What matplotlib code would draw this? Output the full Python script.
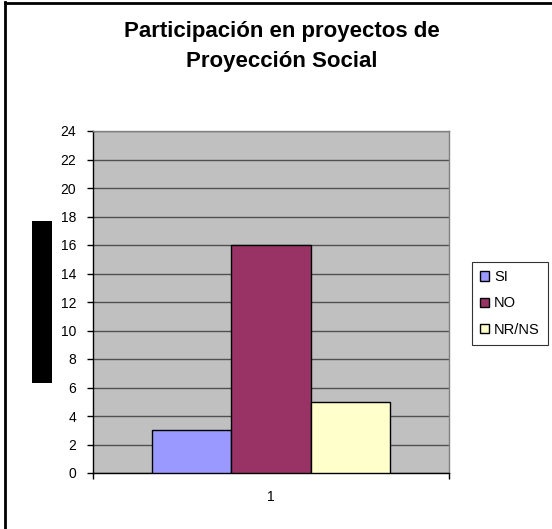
"""Bar chart: Participación en proyectos de Proyección Social (Excel-style)."""
import matplotlib
matplotlib.use("Agg")
import matplotlib.pyplot as plt
from matplotlib.patches import Rectangle
from matplotlib.lines import Line2D

plt.rcParams["font.family"] = ["Liberation Sans", "DejaVu Sans"]

# Data
categories = ["SI", "NO", "NR/NS"]
values = [3, 16, 5]
colors = ["#9999FF", "#993366", "#FFFFCC"]
group_label = ["1"]
yticks = list(range(0, 25, 2))

W, H = 552, 529
fig = plt.figure(figsize=(W / 100, H / 100), dpi=100)
fig.patch.set_facecolor("white")

# plot area in pixels: x 93..449, y 131..473
ax = fig.add_axes([93 / W, (H - 473) / H, (449 - 93) / W, (473 - 131) / H])
ax.set_facecolor("#C0C0C0")

bar_w = 0.222
offsets = [-bar_w, 0, bar_w]
for cat, val, col, off in zip(categories, values, colors, offsets):
    ax.bar(1 + off, val, width=bar_w, color=col, edgecolor="black",
           linewidth=1.0, label=cat, zorder=3)

ax.set_xlim(0.5, 1.5)
ax.set_ylim(0, 24)
ax.set_yticks(yticks)
ax.set_yticklabels([str(t) for t in yticks], fontsize=10)
ax.set_xticks([1])
ax.set_xticklabels(group_label, fontsize=10)
ax.tick_params(axis="x", length=0, pad=12)
ax.set_xticks([0.5, 1.5], minor=True)
ax.tick_params(axis="x", which="minor", length=4, width=1, color="black")
ax.tick_params(axis="y", length=4, width=1, pad=8, color="black")

ax.yaxis.grid(True, color="#505050", linewidth=1.0, zorder=1)
ax.set_axisbelow(True)

ax.spines["left"].set_color("black")
ax.spines["bottom"].set_color("black")
ax.spines["top"].set_color("#808080")
ax.spines["right"].set_color("#808080")
for s in ax.spines.values():
    s.set_linewidth(1.0)

# title
fig.text(282 / W, 1 - 32 / H, "Participación en proyectos de",
         ha="center", va="center", fontsize=16, fontweight="bold")
fig.text(282 / W, 1 - 62 / H, "Proyección Social",
         ha="center", va="center", fontsize=16, fontweight="bold")

# legend
leg = fig.legend(loc="upper left", bbox_to_anchor=(472 / W, 1 - 262 / H),
                 fontsize=10.5, frameon=True, fancybox=False, edgecolor="black",
                 handlelength=0.6, handleheight=0.6, handletextpad=0.35,
                 borderpad=0.55, labelspacing=0.85, borderaxespad=0)
leg.get_frame().set_linewidth(0.8)

# redacted axis title block
fig.patches.append(Rectangle((32 / W, (H - 383) / H), 20 / W, 162 / H,
                             transform=fig.transFigure, facecolor="black",
                             edgecolor="none"))

# chart-area border (left and top visible)
fig.lines.append(Line2D([5 / W, 5 / W], [0, 1 - 2 / H], transform=fig.transFigure,
                        color="black", linewidth=2))
fig.lines.append(Line2D([5 / W, 1], [1 - 3 / H, 1 - 3 / H], transform=fig.transFigure,
                        color="black", linewidth=2))

fig.savefig("out.png", dpi=100, facecolor="white")
